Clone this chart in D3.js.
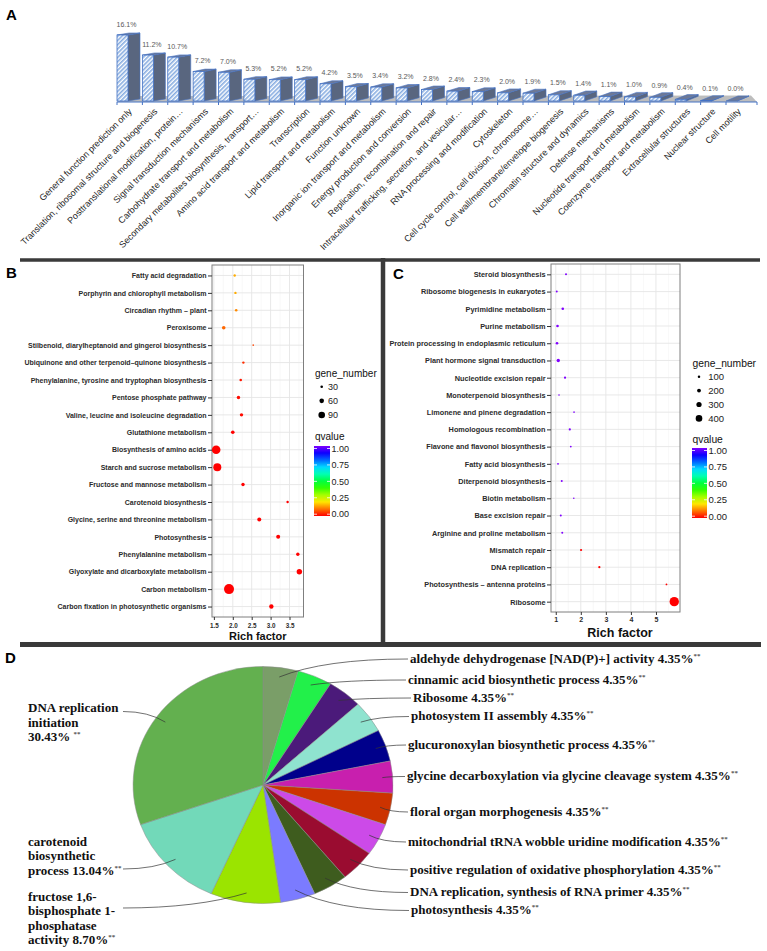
<!DOCTYPE html>
<html>
<head>
<meta charset="utf-8">
<script src="https://cdn.jsdelivr.net/npm/d3@7"></script>
<style>
  body { margin: 0; background: #fff; }
  svg { display: block; }
</style>
</head>
<body>
<div id="chartwrap"></div>
<script>
const WIDTH = 767;
const HEIGHT = 951;
const SANS = '"Liberation Sans", Arial, Helvetica, sans-serif';
const SERIF = '"Liberation Serif", "Times New Roman", serif';

// ---- A: COG classes
const cogNames = [
  'General function prediction only',
  'Translation, ribosomal structure and biogenesis',
  'Posttranslational modification, protein…',
  'Signal transduction mechanisms',
  'Carbohydrate transport and metabolism',
  'Secondary metabolites biosynthesis, transport…',
  'Amino acid transport and metabolism',
  'Transcription',
  'Lipid transport and metabolism',
  'Function unknown',
  'Inorganic ion transport and metabolism',
  'Energy production and conversion',
  'Replication, recombination and repair',
  'Intracellular trafficking, secretion, and vesicular…',
  'RNA processing and modification',
  'Cytoskeleton',
  'Cell cycle control, cell division, chromosome…',
  'Cell wall/membrane/envelope biogenesis',
  'Chromatin structure and dynamics',
  'Defense mechanisms',
  'Nucleotide transport and metabolism',
  'Coenzyme transport and metabolism',
  'Extracellular structures',
  'Nuclear structure',
  'Cell motility'
];
const cogPct = [16.1, 11.2, 10.7, 7.2, 7.0, 5.3, 5.2, 5.2, 4.2, 3.5, 3.4, 3.2, 2.8,
  2.4, 2.3, 2.0, 1.9, 1.5, 1.4, 1.1, 1.0, 0.9, 0.4, 0.1, 0.0];

// ---- B: KEGG enrichment (set 1)
const bPathways = [
  'Fatty acid degradation',
  'Porphyrin and chlorophyll metabolism',
  'Circadian rhythm – plant',
  'Peroxisome',
  'Stilbenoid, diarylheptanoid and gingerol biosynthesis',
  'Ubiquinone and other terpenoid–quinone biosynthesis',
  'Phenylalanine, tyrosine and tryptophan biosynthesis',
  'Pentose phosphate pathway',
  'Valine, leucine and isoleucine degradation',
  'Glutathione metabolism',
  'Biosynthesis of amino acids',
  'Starch and sucrose metabolism',
  'Fructose and mannose metabolism',
  'Carotenoid biosynthesis',
  'Glycine, serine and threonine metabolism',
  'Photosynthesis',
  'Phenylalanine metabolism',
  'Glyoxylate and dicarboxylate metabolism',
  'Carbon metabolism',
  'Carbon fixation in photosynthetic organisms'
];
const bRich = [2.05, 2.07, 2.09, 1.76, 2.54, 2.28, 2.21, 2.15, 2.23, 2.0,
  1.56, 1.59, 2.27, 3.45, 2.70, 3.20, 3.72, 3.76, 1.90, 3.02];
const bGenes = [27, 27, 30, 45, 15, 27, 30, 42, 42, 45,
  120, 111, 42, 27, 51, 51, 42, 72, 141, 57];
const bQ = [0.15, 0.15, 0.12, 0.09, 0.06, 0.04, 0.02, 0.01, 0.01, 0.0,
  0.0, 0.0, 0.0, 0.0, 0.0, 0.0, 0.0, 0.0, 0.0, 0.0];
const bTicks = [1.5, 2.0, 2.5, 3.0, 3.5];
const bSizeKeys = [30, 60, 90];

// ---- C: KEGG enrichment (set 2)
const cPathways = [
  'Steroid biosynthesis',
  'Ribosome biogenesis in eukaryotes',
  'Pyrimidine metabolism',
  'Purine metabolism',
  'Protein processing in endoplasmic reticulum',
  'Plant hormone signal transduction',
  'Nucleotide excision repair',
  'Monoterpenoid biosynthesis',
  'Limonene and pinene degradation',
  'Homologous recombination',
  'Flavone and flavonol biosynthesis',
  'Fatty acid biosynthesis',
  'Diterpenoid biosynthesis',
  'Biotin metabolism',
  'Base excision repair',
  'Arginine and proline metabolism',
  'Mismatch repair',
  'DNA replication',
  'Photosynthesis – antenna proteins',
  'Ribosome'
];
const cRich = [1.41, 1.04, 1.28, 1.07, 1.05, 1.10, 1.37, 1.13, 1.73, 1.56,
  1.60, 1.09, 1.24, 1.72, 1.20, 1.26, 2.01, 2.74, 5.42, 5.73];
const cGenes = [65, 65, 109, 109, 109, 167, 80, 36, 36, 80,
  50, 50, 65, 36, 65, 65, 80, 80, 50, 600];
const cQ = [1.0, 1.0, 1.0, 1.0, 1.0, 1.0, 1.0, 1.0, 1.0, 1.0,
  1.0, 1.0, 1.0, 1.0, 1.0, 1.0, 0.0, 0.0, 0.0, 0.0];
const cTicks = [1, 2, 3, 4, 5];
const cSizeKeys = [100, 200, 300, 400];

const qTicks = [1.00, 0.75, 0.50, 0.25, 0.00];

// ---- D: GO terms
const goTerms = [
  'aldehyde dehydrogenase [NAD(P)+] activity',
  'cinnamic acid biosynthetic process',
  'Ribosome',
  'photosystem II assembly',
  'glucuronoxylan biosynthetic process',
  'glycine decarboxylation via glycine cleavage system',
  'floral organ morphogenesis',
  'mitochondrial tRNA wobble uridine modification',
  'positive regulation of oxidative phosphorylation',
  'DNA replication, synthesis of RNA primer',
  'photosynthesis',
  'fructose 1,6-bisphosphate 1-phosphatase activity',
  'carotenoid biosynthetic process',
  'DNA replication initiation'
];
const goPct = [4.35, 4.35, 4.35, 4.35, 4.35, 4.35, 4.35, 4.35, 4.35, 4.35, 4.35, 8.70, 13.04, 30.43];

const goColors = ['#7a9e68', '#22f04a', '#4b1a7a', '#8fe3cf', '#00008b', '#c81fae', '#cc3300',
  '#cc4ae8', '#9a0c30', '#3e5c1e', '#7b7bff', '#9be400', '#72d9b9', '#63b04f'];

const qColor = d3.scaleLinear()
  .domain([0, 1])
  .range([d3.hsl(0, 1, 0.5), d3.hsl(270, 1, 0.5)])
  .interpolate(d3.interpolateHslLong);

const svg = d3.select('#chartwrap')
  .append('svg')
  .attr('width', WIDTH)
  .attr('height', HEIGHT)
  .style('background-color', '#fff');

const defs = svg.append('defs');

const hatch = defs.append('pattern')
  .attr('id', 'hatch')
  .attr('patternUnits', 'userSpaceOnUse')
  .attr('width', 3)
  .attr('height', 3)
  .attr('patternTransform', 'rotate(45)');
hatch.append('rect').attr('width', 3).attr('height', 3).attr('fill', '#ffffff');
hatch.append('line').attr('x1', 0.8).attr('y1', 0).attr('x2', 0.8).attr('y2', 3)
  .attr('stroke', '#86ace0').attr('stroke-width', 1.6);

// panel letters
svg.selectAll('text.panel')
  .data([['A', 6, 20], ['B', 6, 278], ['C', 393, 279], ['D', 5, 663]])
  .join('text')
  .attr('class', 'panel')
  .attr('x', d => d[1])
  .attr('y', d => d[2])
  .attr('font-family', SANS)
  .attr('font-weight', 'bold')
  .attr('font-size', 15)
  .text(d => d[0]);

// separators
svg.append('line').attr('x1', 20).attr('x2', 760).attr('y1', 260).attr('y2', 260)
  .attr('stroke', '#3a3a3a').attr('stroke-width', 3.5);
svg.append('line').attr('x1', 383).attr('x2', 383).attr('y1', 258).attr('y2', 647)
  .attr('stroke', '#3a3a3a').attr('stroke-width', 4.5);
svg.append('line').attr('x1', 20).attr('x2', 761).attr('y1', 644.5).attr('y2', 644.5)
  .attr('stroke', '#3a3a3a').attr('stroke-width', 5);

// ================= A =================
const A = { x0: 122.5, x1: 731.5, base: 101, top: 35, axisY: 102, left: 117, right: 757 };
const barW = 11;
const depthX = 12;
const depthY = i => -(2 + 3 * i / (cogNames.length - 1));

const xA = d3.scalePoint().domain(cogNames).range([A.x0, A.x1]);
const yA = d3.scaleLinear().domain([0, d3.max(cogPct)]).range([A.base, A.top]);

const gA = svg.append('g').attr('font-family', SANS);

gA.append('polygon')
  .attr('points', [[A.left, A.axisY], [A.right, A.axisY], [A.right - 6, 95.5], [A.left + 10, 96]].join(' '))
  .attr('fill', '#bdbdbd');

const cog = cogNames.map((n, i) => ({ n, v: cogPct[i], i }));

gA.selectAll('g.bar')
  .data(cog)
  .join('g')
  .attr('class', 'bar')
  .each(function (d) {
    const g = d3.select(this);
    const x0 = xA(d.n) - barW / 2, x1 = x0 + barW;
    const yt = yA(d.v), yb = A.base;
    const dx = depthX, dy = depthY(d.i);
    g.append('polygon')
      .attr('points', [[x1, yb], [x1 + dx, yb + dy], [x1 + dx, yt + dy], [x1, yt]].join(' '))
      .attr('fill', '#59667f').attr('stroke', '#4472c4').attr('stroke-width', 0.6);
    g.append('polygon')
      .attr('points', [[x0, yt], [x1, yt], [x1 + dx, yt + dy], [x0 + dx, yt + dy]].join(' '))
      .attr('fill', '#6d7997').attr('stroke', '#4472c4').attr('stroke-width', 0.6);
    g.append('rect')
      .attr('x', x0).attr('y', yt)
      .attr('width', barW).attr('height', yb - yt)
      .attr('fill', 'url(#hatch)')
      .attr('stroke', '#4472c4').attr('stroke-width', 0.8);
  });

gA.append('line')
  .attr('x1', A.left).attr('x2', A.right).attr('y1', A.axisY).attr('y2', A.axisY)
  .attr('stroke', '#4472c4').attr('stroke-width', 1);

gA.selectAll('line.tick')
  .data(cogNames.map(n => xA(n) - barW / 2).concat([A.right]))
  .join('line')
  .attr('class', 'tick')
  .attr('x1', d => d).attr('x2', d => d)
  .attr('y1', A.axisY).attr('y2', A.axisY + 3)
  .attr('stroke', '#4472c4').attr('stroke-width', 1);

gA.selectAll('text.val')
  .data(cog)
  .join('text')
  .attr('class', 'val')
  .attr('x', d => xA(d.n) + 4)
  .attr('y', d => yA(d.v) - 8 - 2 * d.i / (cogNames.length - 1))
  .attr('text-anchor', 'middle')
  .attr('font-size', 7)
  .attr('fill', '#595959')
  .text(d => d.v.toFixed(1) + '%');

gA.selectAll('text.cat')
  .data(cog)
  .join('text')
  .attr('class', 'cat')
  .attr('transform', d => `translate(${xA(d.n) + 10},${112}) rotate(-45)`)
  .attr('text-anchor', 'end')
  .attr('font-size', 9)
  .attr('fill', '#262626')
  .text(d => d.n);

// ================= B & C =================
function dotPanel(o) {
  const g = svg.append('g').attr('font-family', SANS);
  const x = d3.scaleLinear().domain(o.xDomain).range([o.box.x0, o.box.x1]);
  const y = d3.scalePoint().domain(o.names).range([o.box.y0, o.box.y1]).padding(0.6);
  const r = d3.scaleLinear().domain(o.rDomain).range(o.rRange);

  g.append('rect')
    .attr('x', o.box.x0).attr('y', o.box.y0)
    .attr('width', o.box.x1 - o.box.x0).attr('height', o.box.y1 - o.box.y0)
    .attr('fill', '#fff');

  g.append('g').selectAll('line')
    .data(o.minor)
    .join('line')
    .attr('x1', d => x(d)).attr('x2', d => x(d))
    .attr('y1', o.box.y0).attr('y2', o.box.y1)
    .attr('stroke', '#f3f3f3').attr('stroke-width', 0.6);

  g.append('g').selectAll('line')
    .data(o.ticks)
    .join('line')
    .attr('x1', d => x(d)).attr('x2', d => x(d))
    .attr('y1', o.box.y0).attr('y2', o.box.y1)
    .attr('stroke', '#e5e5e5').attr('stroke-width', 0.9);

  g.append('g').selectAll('line')
    .data(o.names)
    .join('line')
    .attr('x1', o.box.x0).attr('x2', o.box.x1)
    .attr('y1', d => y(d)).attr('y2', d => y(d))
    .attr('stroke', '#e5e5e5').attr('stroke-width', 0.9);

  g.append('rect')
    .attr('x', o.box.x0).attr('y', o.box.y0)
    .attr('width', o.box.x1 - o.box.x0).attr('height', o.box.y1 - o.box.y0)
    .attr('fill', 'none')
    .attr('stroke', '#7f7f7f').attr('stroke-width', 1);

  g.append('g').selectAll('circle')
    .data(o.names.map((n, i) => ({ n, rich: o.rich[i], genes: o.genes[i], q: o.q[i] })))
    .join('circle')
    .attr('cx', d => x(d.rich))
    .attr('cy', d => y(d.n))
    .attr('r', d => r(d.genes))
    .attr('fill', d => qColor(d.q));

  const yAxis = g.append('g')
    .attr('transform', `translate(${o.box.x0},0)`)
    .call(d3.axisLeft(y).tickSize(4).tickPadding(1.5))
    .attr('font-size', null).attr('font-family', null);
  yAxis.select('.domain').remove();
  yAxis.selectAll('line').attr('stroke', '#333');
  yAxis.selectAll('text')
    .attr('font-size', o.labelSize)
    .attr('font-weight', 'bold')
    .attr('fill', '#2b2b2b');

  const xAxis = g.append('g')
    .attr('transform', `translate(0,${o.box.y1})`)
    .call(d3.axisBottom(x).tickValues(o.ticks).tickFormat(o.fmt).tickSize(3).tickPadding(o.xPad))
    .attr('font-size', null).attr('font-family', null);
  xAxis.select('.domain').remove();
  xAxis.selectAll('line').attr('stroke', '#333');
  xAxis.selectAll('text')
    .attr('font-size', o.tickSize)
    .attr('font-weight', 'bold')
    .attr('fill', '#2b2b2b');

  g.append('text')
    .attr('x', (o.box.x0 + o.box.x1) / 2 + o.titleDx)
    .attr('y', o.titleY)
    .attr('text-anchor', 'middle')
    .attr('font-size', o.titleSize)
    .attr('font-weight', 'bold')
    .attr('fill', '#111')
    .text('Rich factor');

  // size legend
  const L = o.legend;
  g.append('text')
    .attr('x', L.x).attr('y', L.sizeTitleY)
    .attr('font-size', L.titleSize)
    .attr('fill', '#111')
    .text('gene_number');
  const keys = g.append('g').selectAll('g')
    .data(o.sizeKeys)
    .join('g')
    .attr('transform', (d, i) => `translate(0,${L.keyY0 + i * L.keyStep})`);
  keys.append('circle').attr('cx', L.dotX).attr('r', d => r(d)).attr('fill', '#000');
  keys.append('text')
    .attr('x', L.labelX).attr('dy', '0.35em')
    .attr('font-size', L.labelSize).attr('fill', '#222')
    .text(d => d);

  // colour bar
  g.append('text')
    .attr('x', L.x).attr('y', L.qTitleY)
    .attr('font-size', L.titleSize)
    .attr('fill', '#111')
    .text('qvalue');
  const gid = 'grad' + o.id;
  const grad = defs.append('linearGradient')
    .attr('id', gid)
    .attr('x1', 0).attr('y1', 1).attr('x2', 0).attr('y2', 0);
  grad.selectAll('stop')
    .data(d3.range(0, 1.0001, 0.1))
    .join('stop')
    .attr('offset', d => d)
    .attr('stop-color', d => qColor(d));
  g.append('rect')
    .attr('x', L.barX).attr('y', L.barY0)
    .attr('width', L.barW).attr('height', L.barY1 - L.barY0)
    .attr('fill', `url(#${gid})`);
  const qy = d3.scaleLinear().domain([1, 0]).range([L.barY0 + 2.5, L.barY1 - 1.8]);
  g.append('g').selectAll('line')
    .data(qTicks.flatMap(q => [[q, L.barX, L.barX + 3], [q, L.barX + L.barW - 3, L.barX + L.barW]]))
    .join('line')
    .attr('x1', d => d[1]).attr('x2', d => d[2])
    .attr('y1', d => qy(d[0])).attr('y2', d => qy(d[0]))
    .attr('stroke', '#fff').attr('stroke-width', 0.8);
  g.append('g').selectAll('text')
    .data(qTicks)
    .join('text')
    .attr('x', L.barX + L.barW + 1.5)
    .attr('y', d => qy(d))
    .attr('dy', '0.35em')
    .attr('font-size', L.labelSize)
    .attr('fill', '#222')
    .text(d => d.toFixed(2));
}

dotPanel({
  id: 'B',
  names: bPathways, rich: bRich, genes: bGenes, q: bQ,
  box: { x0: 212, x1: 303.5, y0: 265, y1: 617 },
  xDomain: [1.45, 3.87],
  ticks: bTicks,
  minor: [1.75, 2.25, 2.75, 3.25, 3.75],
  fmt: d3.format('.1f'),
  rDomain: [0, 150], rRange: [0.3, 5.3],
  labelSize: 7, tickSize: 6.3, xPad: 4,
  titleSize: 11, titleY: 640, titleDx: 0,
  sizeKeys: bSizeKeys,
  legend: {
    x: 315, sizeTitleY: 376.5, titleSize: 10,
    keyY0: 386.7, keyStep: 14.15, dotX: 321.7, labelX: 328, labelSize: 9,
    qTitleY: 440, barX: 314, barW: 16, barY0: 446, barY1: 516
  }
});

dotPanel({
  id: 'C',
  names: cPathways, rich: cRich, genes: cGenes, q: cQ,
  box: { x0: 551, x1: 680, y0: 264, y1: 612 },
  xDomain: [0.81, 5.96],
  ticks: cTicks,
  minor: [1.5, 2.5, 3.5, 4.5, 5.5],
  fmt: d3.format('d'),
  rDomain: [0, 700], rRange: [0.55, 5.38],
  labelSize: 7.3, tickSize: 7, xPad: 2,
  titleSize: 12.5, titleY: 636.5, titleDx: 4.5,
  sizeKeys: cSizeKeys,
  legend: {
    x: 692.5, sizeTitleY: 366.5, titleSize: 10.3,
    keyY0: 376.7, keyStep: 13.9, dotX: 699, labelX: 708.3, labelSize: 9.5,
    qTitleY: 442.5, barX: 692, barW: 15, barY0: 448, barY1: 518
  }
});

// ================= D =================
const pieC = { x: 263, y: 785 };
const pieR = { x: 130, y: 118.5 };
const slices = d3.pie().sort(null).value(d => d)(goPct);
const arc = d3.arc().innerRadius(0).outerRadius(1);
const leadArc = d3.arc().innerRadius(0.92).outerRadius(0.92);

const gD = svg.append('g').attr('font-family', SERIF);

gD.append('g')
  .attr('transform', `translate(${pieC.x},${pieC.y}) scale(${pieR.x},${pieR.y})`)
  .selectAll('path')
  .data(slices)
  .join('path')
  .attr('d', arc)
  .attr('fill', (d, i) => goColors[i])
  .attr('stroke', '#8a8a8a')
  .attr('stroke-width', 0.5)
  .attr('vector-effect', 'non-scaling-stroke');

const leadStart = d => {
  const c = leadArc.centroid(d);
  return [pieC.x + c[0] * pieR.x, pieC.y + c[1] * pieR.y];
};

// right-hand labels: layout of baselines
const rightX = [410, 408, 413, 411, 408, 407, 410, 408, 410, 410, 411];
const rightY = [662.5, 683.5, 701.5, 720, 748.5, 780, 815.5, 845.5, 873.5, 896, 914];

const pctText = v => v.toFixed(2) + '%';

slices.slice(0, 11).forEach((d, i) => {
  const s = leadStart(d);
  const e = [rightX[i] - 2, rightY[i] - 3.5];
  const c = [s[0] + 0.35 * (e[0] - s[0]), e[1]];
  gD.append('path')
    .attr('d', `M${s[0]},${s[1]}Q${c[0]},${c[1]} ${e[0]},${e[1]}`)
    .attr('fill', 'none').attr('stroke', '#333').attr('stroke-width', 0.7);
  const t = gD.append('text')
    .attr('x', rightX[i]).attr('y', rightY[i])
    .attr('font-size', 13).attr('font-weight', 'bold').attr('fill', '#111')
    .text(goTerms[i] + ' ' + pctText(goPct[i]));
  t.append('tspan')
    .attr('dy', -5).attr('font-size', 7).attr('fill', '#555')
    .text('**');
});

// left-hand labels: wrapped lines, percent appended to last line
const leftLines = {
  11: ['fructose 1,6-', 'bisphosphate 1-', 'phosphatase', 'activity'],
  12: ['carotenoid', 'biosynthetic', 'process'],
  13: ['DNA replication', 'initiation', '']
};
const leftY0 = { 11: 900.7, 12: 845.7, 13: 712.3 };
const leftAnchor = { 11: [123, 908], 12: [123, 869], 13: [123, 711.5] };
const leftGap = { 11: '', 12: '', 13: ' ' };

[11, 12, 13].forEach(i => {
  const d = slices[i];
  const s = leadStart(d);
  const a = leftAnchor[i];
  const c = [a[0] + 0.6 * (s[0] - a[0]), a[1]];
  gD.append('path')
    .attr('d', `M${a[0]},${a[1]}Q${c[0]},${c[1]} ${s[0]},${s[1]}`)
    .attr('fill', 'none').attr('stroke', '#333').attr('stroke-width', 0.7);
  const lines = leftLines[i];
  lines.forEach((ln, k) => {
    const last = k === lines.length - 1;
    const txt = last ? (ln ? ln + ' ' : '') + pctText(goPct[i]) + leftGap[i] : ln;
    const t = gD.append('text')
      .attr('x', 28).attr('y', leftY0[i] + k * 14.4)
      .attr('font-size', 13).attr('font-weight', 'bold').attr('fill', '#111')
      .attr('xml:space', 'preserve')
      .text(txt);
    if (last) {
      t.append('tspan')
        .attr('dy', -5).attr('font-size', 7).attr('fill', '#555')
        .text('**');
    }
  });
});
</script>
</body>
</html>
